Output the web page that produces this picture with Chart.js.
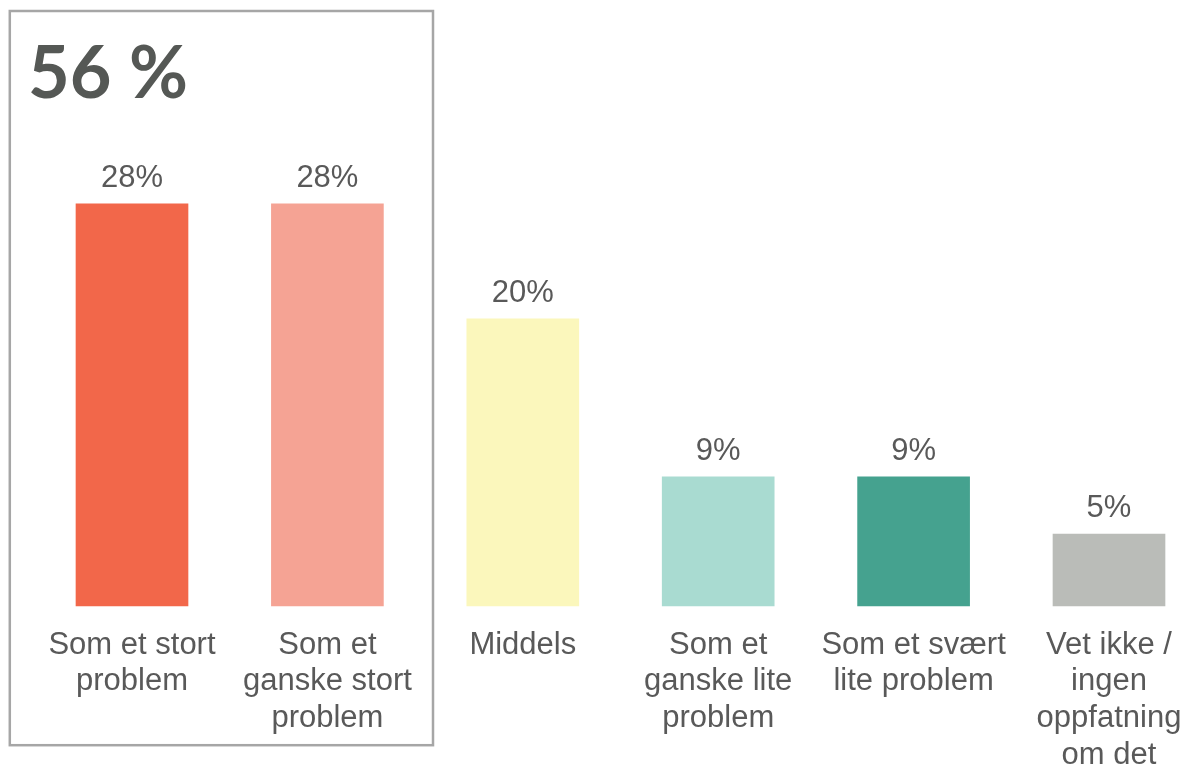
<!DOCTYPE html>
<html>
<head>
<meta charset="utf-8">
<script src="https://cdn.jsdelivr.net/npm/chart.js@4"></script>
<style>
  html, body { margin: 0; padding: 0; background: #fff; overflow: hidden; }
  #wrap { position: relative; width: 1186px; height: 766px; }
</style>
</head>
<body>
<div id="wrap"><canvas id="chart" width="1186" height="766"></canvas></div>
<script>
// Categories (already split into lines like in the original)
const categories = [
  ['Som et stort', 'problem'],
  ['Som et', 'ganske stort', 'problem'],
  ['Middels'],
  ['Som et', 'ganske lite', 'problem'],
  ['Som et svært', 'lite problem'],
  ['Vet ikke /', 'ingen', 'oppfatning', 'om det']
];
const values = [28, 28, 20, 9, 9, 5];
const barColors = ['#f2674a', '#f5a394', '#fbf7bc', '#a9dbd1', '#45a28f', '#babcb8'];
const totalLabel = '56 %';

const textColor = '#595959';

// frame around the first two bars + the big total
const framePlugin = {
  id: 'frame',
  beforeDraw(chart) {
    const ctx = chart.ctx;
    ctx.save();
    ctx.strokeStyle = '#a6a6a6';
    ctx.lineWidth = 2.5;
    ctx.strokeRect(9.8, 11, 423.2, 734.2);
    ctx.fillStyle = '#555855';
    ctx.font = 'bold 72px Lato';
    ctx.textBaseline = 'alphabetic';
    ctx.fillText(totalLabel, 28, 98);
    ctx.restore();
  }
};

// value labels above the bars
const valueLabels = {
  id: 'valueLabels',
  afterDatasetsDraw(chart) {
    const ctx = chart.ctx;
    const meta = chart.getDatasetMeta(0);
    ctx.save();
    ctx.fillStyle = textColor;
    ctx.font = '31px "Liberation Sans", Arial, sans-serif';
    ctx.textAlign = 'center';
    ctx.textBaseline = 'alphabetic';
    meta.data.forEach((bar, i) => {
      ctx.fillText(values[i] + '%', bar.x, bar.y - 17);
    });
    ctx.restore();
  }
};

new Chart(document.getElementById('chart').getContext('2d'), {
  type: 'bar',
  data: {
    labels: categories,
    datasets: [{
      data: values,
      backgroundColor: barColors,
      borderWidth: 0,
      barThickness: 112,
      clip: false
    }]
  },
  options: {
    responsive: false,
    animation: false,
    layout: { padding: { left: 132, right: 77, top: 30, bottom: 0 } },
    plugins: {
      legend: { display: false },
      tooltip: { enabled: false }
    },
    scales: {
      x: {
        offset: false,
        grid: { display: false, drawTicks: false },
        border: { display: false },
        ticks: {
          color: textColor,
          padding: 21,
          maxRotation: 0,
          autoSkip: false,
          font: { family: '"Liberation Sans", Arial, sans-serif', size: 31, lineHeight: 1.18 }
        },
        afterFit(scale) {
          scale.height = 160;
          // labels may hang past the plot edges, like the original
          scale.paddingLeft = 0;
          scale.paddingRight = 0;
        }
      },
      y: {
        display: false,
        min: 0,
        max: 40.1
      }
    }
  },
  plugins: [framePlugin, valueLabels]
});
</script>
</body>
</html>
